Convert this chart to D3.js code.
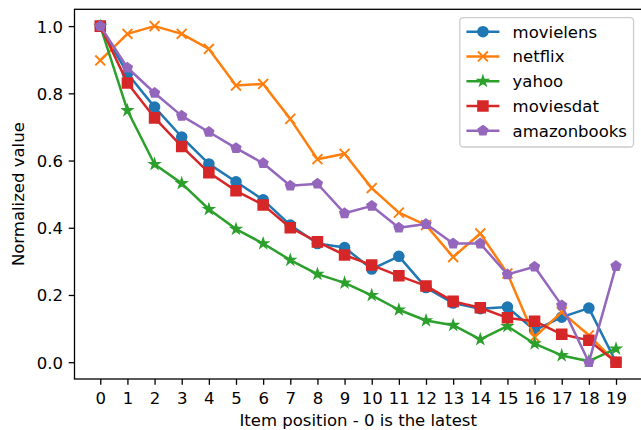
<!DOCTYPE html>
<html>
<head>
<meta charset="utf-8">
<script src="https://cdn.jsdelivr.net/npm/d3@7"></script>
<style>
  html, body { margin: 0; padding: 0; background: #fff; }
  svg { display: block; font-family: "DejaVu Sans", sans-serif; }
</style>
</head>
<body>
<svg id="chart" width="641" height="430"></svg>
<script>
// ---- data ----
const positions = [0,1,2,3,4,5,6,7,8,9,10,11,12,13,14,15,16,17,18,19];
const seriesNames = ["movielens", "netflix", "yahoo", "moviesdat", "amazonbooks"];
const movielens   = [1.0, 0.859, 0.759, 0.670, 0.590, 0.537, 0.483, 0.408, 0.353, 0.341, 0.277, 0.315, 0.222, 0.176, 0.159, 0.164, 0.095, 0.134, 0.161, 0.0];
const netflix     = [0.898, 0.977, 1.0, 0.977, 0.932, 0.823, 0.828, 0.724, 0.604, 0.620, 0.518, 0.445, 0.408, 0.313, 0.383, 0.264, 0.075, 0.149, 0.080, 0.0];
const yahoo       = [1.0, 0.749, 0.589, 0.532, 0.455, 0.396, 0.353, 0.304, 0.262, 0.236, 0.199, 0.156, 0.124, 0.110, 0.068, 0.107, 0.055, 0.020, 0.003, 0.040];
const moviesdat   = [1.0, 0.831, 0.727, 0.642, 0.564, 0.510, 0.468, 0.400, 0.358, 0.319, 0.289, 0.257, 0.227, 0.181, 0.162, 0.132, 0.122, 0.083, 0.065, 0.0];
const amazonbooks = [1.0, 0.876, 0.801, 0.733, 0.685, 0.637, 0.592, 0.525, 0.531, 0.443, 0.465, 0.400, 0.411, 0.353, 0.353, 0.261, 0.284, 0.169, 0.0, 0.286];
const yTicks = [0.0, 0.2, 0.4, 0.6, 0.8, 1.0];
const xLabel = "Item position - 0 is the latest";
const yLabel = "Normalized value";

const seriesValues = [movielens, netflix, yahoo, moviesdat, amazonbooks];
const colors = ["#1f77b4", "#ff7f0e", "#2ca02c", "#d62728", "#9467bd"];
const markers = ["circle", "x", "star", "square", "pentagon"];

// ---- layout ----
const FS = 16.5;
const pLeft = 74.5, pRight = 641.8, pTop = 9.3, pBottom = 379;
const svg = d3.select("#chart");

const x = d3.scaleLinear().domain([-0.95, 19.95]).range([pLeft, pRight]);
const y = d3.scaleLinear().domain([-0.05, 1.05]).range([pBottom, pTop]);

const MS = 9.9, LW = 2.5, MEW = 1.65;
function markerPath(type) {
  const r = MS / 2;
  if (type === "circle") return d3.symbol(d3.symbolCircle, Math.PI * r * r)();
  if (type === "square") return `M${-r},${-r}H${r}V${r}H${-r}Z`;
  if (type === "x") return `M${-r},${-r}L${r},${r}M${-r},${r}L${r},${-r}`;
  if (type === "pentagon") {
    const pts = d3.range(5).map(k => {
      const a = -Math.PI / 2 + k * 2 * Math.PI / 5;
      return [r * Math.cos(a), r * Math.sin(a)];
    });
    return "M" + pts.map(p => p.join(",")).join("L") + "Z";
  }
  if (type === "star") {
    const ri = r * 0.381966;
    const pts = d3.range(10).map(k => {
      const a = -Math.PI / 2 + k * Math.PI / 5;
      const rr = k % 2 === 0 ? r : ri;
      return [rr * Math.cos(a), rr * Math.sin(a)];
    });
    return "M" + pts.map(p => p.join(",")).join("L") + "Z";
  }
}
function drawMarker(g, type, color) {
  const p = g.append("path").attr("d", markerPath(type));
  if (type === "x") p.attr("fill", "none").attr("stroke", color).attr("stroke-width", MEW + 0.3);
  else p.attr("fill", color).attr("stroke", color).attr("stroke-width", MEW).attr("stroke-linejoin", "miter");
  return p;
}

// ---- axes ----
const xAxis = d3.axisBottom(x).tickValues(positions).tickFormat(d3.format("d"))
  .tickSizeInner(5.8).tickSizeOuter(0).tickPadding(5.8);
const yAxis = d3.axisLeft(y).tickValues(yTicks).tickFormat(d3.format(".1f"))
  .tickSizeInner(5.8).tickSizeOuter(0).tickPadding(5.8);

const gx = svg.append("g").attr("transform", `translate(0,${pBottom})`).call(xAxis);
const gy = svg.append("g").attr("transform", `translate(${pLeft},0)`).call(yAxis);
[gx, gy].forEach(g => {
  g.select(".domain").remove();
  g.selectAll(".tick line").attr("stroke", "#000").attr("stroke-width", 1.3);
  g.selectAll(".tick text").attr("fill", "#000").attr("font-size", FS)
    .attr("font-family", "DejaVu Sans, sans-serif");
});
gx.selectAll(".tick text").attr("dy", null).attr("y", 24.5);
gy.selectAll(".tick text").attr("dy", "0.36em");

// ---- series ----
const line = d3.line().x((d, i) => x(positions[i])).y(d => y(d));
seriesValues.forEach((vals, s) => {
  const g = svg.append("g");
  g.append("path").attr("d", line(vals)).attr("fill", "none")
    .attr("stroke", colors[s]).attr("stroke-width", LW)
    .attr("stroke-linejoin", "round").attr("stroke-linecap", "square");
  vals.forEach((v, i) => {
    const mg = g.append("g").attr("transform", `translate(${x(positions[i])},${y(v)})`);
    drawMarker(mg, markers[s], colors[s]);
  });
});

// ---- spines ----
svg.append("rect").attr("x", pLeft).attr("y", pTop)
  .attr("width", pRight - pLeft).attr("height", pBottom - pTop)
  .attr("fill", "none").attr("stroke", "#000").attr("stroke-width", 1.3);

// ---- axis labels ----
svg.append("text").attr("x", (pLeft + pRight) / 2).attr("y", 425.5)
  .attr("text-anchor", "middle").attr("font-size", FS).attr("fill", "#000").text(xLabel);
svg.append("text").attr("transform", `translate(24,${(pTop + pBottom) / 2}) rotate(-90)`)
  .attr("text-anchor", "middle").attr("font-size", FS).attr("fill", "#000").text(yLabel);

// ---- legend ----
const lg = svg.append("g");
const frame = lg.append("rect");
const pad = 0.4 * FS, handleLen = 2 * FS, textPad = 0.8 * FS, rowH = 1.5 * FS;
const legRight = pRight - 0.5 * FS, legTop = pTop + 0.5 * FS;
const texts = seriesNames.map(n => lg.append("text").attr("font-size", FS).attr("fill", "#000").text(n));
const maxW = d3.max(texts, t => t.node().getComputedTextLength());
const legW = pad * 2 + handleLen + textPad + maxW;
const legLeft = legRight - legW;
const legH = 147 - legTop;
frame.attr("x", legLeft).attr("y", legTop).attr("width", legW).attr("height", legH)
  .attr("rx", 3.5).attr("fill", "rgba(255,255,255,0.8)").attr("stroke", "#cccccc").attr("stroke-width", 1.3);
seriesNames.forEach((n, s) => {
  const cy = 31.7 + s * rowH;
  const hx = legLeft + pad;
  lg.append("line").attr("x1", hx).attr("x2", hx + handleLen).attr("y1", cy).attr("y2", cy)
    .attr("stroke", colors[s]).attr("stroke-width", LW);
  const mg = lg.append("g").attr("transform", `translate(${hx + handleLen / 2},${cy})`);
  drawMarker(mg, markers[s], colors[s]);
  texts[s].attr("x", hx + handleLen + textPad).attr("y", cy).attr("dy", "0.36em");
});
</script>
</body>
</html>
